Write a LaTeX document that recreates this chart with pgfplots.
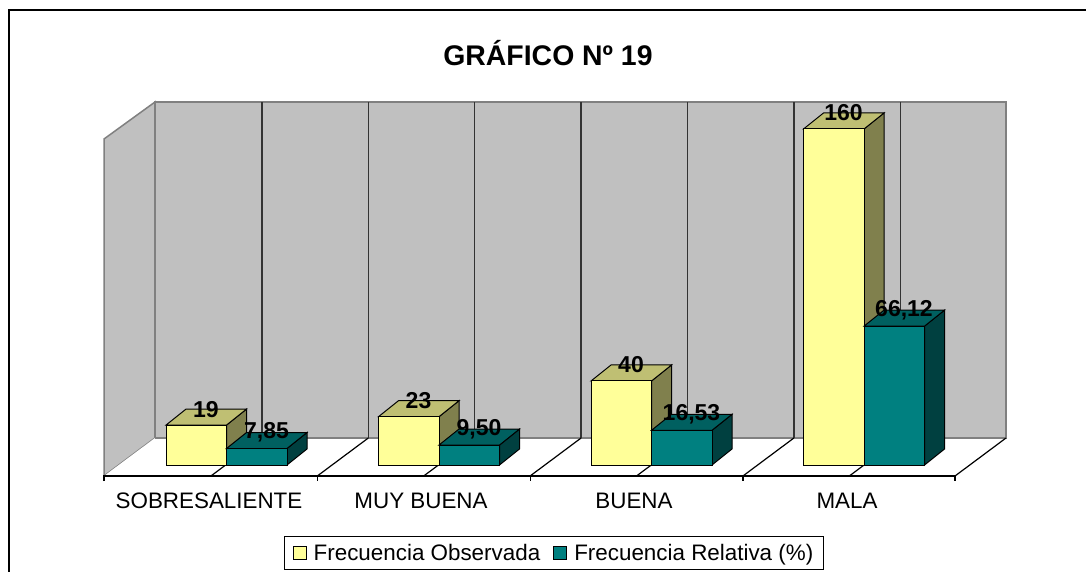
\documentclass[border=0pt]{standalone}
\usepackage{fontspec}
\setmainfont{Liberation Sans}
\usepackage{pgfplots}
\usepackage{pgfplotstable}
\pgfplotsset{compat=1.18}

\definecolor{amarillo}{HTML}{FFFF99}
\definecolor{amarilloT}{HTML}{BFBF73}
\definecolor{amarilloS}{HTML}{80804D}
\definecolor{verde}{HTML}{008080}
\definecolor{verdeT}{HTML}{006060}
\definecolor{verdeS}{HTML}{004040}
\definecolor{muro}{HTML}{C0C0C0}
\definecolor{borde}{HTML}{808080}

% x0, value, front, top, side (depth: 20 px across, 16 px = 7.62 units up)
\newcommand{\caja}[5]{%
  \pgfmathsetmacro{\xa}{#1+60.5}%
  \pgfmathsetmacro{\xb}{#1+80.5}%
  \pgfmathsetmacro{\xc}{#1+20}%
  \pgfmathsetmacro{\ya}{#2+7.62}%
  \addplot[forget plot,draw=black,line width=1pt,fill=#5] coordinates {(\xa,0) (\xb,7.62) (\xb,\ya) (\xa,#2)} -- cycle;
  \addplot[forget plot,draw=black,line width=1pt,fill=#4] coordinates {(#1,#2) (\xa,#2) (\xb,\ya) (\xc,\ya)} -- cycle;
  \addplot[forget plot,draw=black,line width=1pt,fill=#3] coordinates {(#1,0) (\xa,0) (\xa,#2) (#1,#2)} -- cycle;
}

\pgfplotstableread{
x val etiqueta
196.5 19 19
257 7.85 {7,85}
409 23 23
469.5 9.50 {9,50}
621.5 40 40
682 16.53 {16,53}
834 160 160
894.5 66.12 {66,12}
}\etiquetas

\begin{document}
\begin{tikzpicture}
\begin{axis}[
    scale only axis,
    width=1086pt,
    height=572pt,
    xmin=0,xmax=1086,
    ymin=-50.95,ymax=221.43,
    axis line style={draw=none},
    tick style={draw=none},
    ytick=\empty,
    xtick={209,421,634,847},
    xticklabels={SOBRESALIENTE,MUY BUENA,BUENA,MALA},
    xticklabel style={font=\fontsize{22.4}{24}\selectfont,anchor=center,yshift=71pt},
    title={\bfseries GRÁFICO Nº 19},
    title style={at={(axis description cs:0.5046,0.897)},anchor=center,font=\fontsize{28.4}{30}\selectfont},
    unbounded coords=jump,
    legend style={at={(axis description cs:0.5101,0.0332)},anchor=center,draw=black,line width=1pt,
        font=\fontsize{22.4}{24}\selectfont,legend columns=2,inner xsep=8pt,inner ysep=5.5pt,
        /tikz/every even column/.style={column sep=11pt},legend cell align=left},
    legend image code/.code={\draw[#1,draw=black,line width=1pt] (0pt,-6.5pt) rectangle (13pt,6.5pt);
        \path (18pt,0pt);},
]
\addlegendimage{fill=amarillo}
\addlegendentry{Frecuencia Observada}
\addlegendimage{fill=verde}
\addlegendentry{Frecuencia Relativa (\%)}

% frame
\addplot[forget plot,black,line width=2pt] coordinates {(9,-60) (9,216.67) (1100,216.67)};

% walls and floor
\addplot[forget plot,draw=borde,line width=1.5pt,fill=muro] coordinates {(104,-5.24) (155,12.86) (155,172.86) (104,155.24)} -- cycle;
\addplot[forget plot,draw=borde,line width=1.5pt,fill=muro] coordinates {(155,12.86) (1006,12.86) (1006,172.86) (155,172.86)} -- cycle;
\addplot[forget plot,draw=none,fill=white] coordinates {(104,-5.24) (955,-5.24) (1006,12.86) (155,12.86)} -- cycle;
\addplot[forget plot,draw=borde,line width=1.5pt] coordinates {(155,12.86) (1006,12.86)};

% grid lines on the wall and the floor
\addplot[forget plot,draw=black!80,line width=1.3pt] coordinates {
 (261.9,12.86) (261.9,172.86) (261.9,nan)
 (368.3,12.86) (368.3,172.86) (368.3,nan)
 (474.7,12.86) (474.7,172.86) (474.7,nan)
 (581.1,12.86) (581.1,172.86) (581.1,nan)
 (687.5,12.86) (687.5,172.86) (687.5,nan)
 (793.9,12.86) (793.9,172.86) (793.9,nan)
 (900.3,12.86) (900.3,172.86)};
\addplot[forget plot,black,line width=1.2pt] coordinates {
 (210.9,-5.24) (261.9,12.86) (261.9,nan)
 (317.3,-5.24) (368.3,12.86) (368.3,nan)
 (423.7,-5.24) (474.7,12.86) (474.7,nan)
 (530.1,-5.24) (581.1,12.86) (581.1,nan)
 (636.5,-5.24) (687.5,12.86) (687.5,nan)
 (742.9,-5.24) (793.9,12.86) (793.9,nan)
 (849.3,-5.24) (900.3,12.86) (900.3,nan)
 (955,-5.24) (1006,12.86)};

% front axis line and ticks
\addplot[forget plot,black,line width=1.2pt] coordinates {
 (104,-7.62) (104,-5.24) (955,-5.24) (955,-7.62) (955,nan)
 (317.3,-5.24) (317.3,-7.62) (317.3,nan)
 (530.1,-5.24) (530.1,-7.62) (530.1,nan)
 (742.9,-5.24) (742.9,-7.62)};

% bars
\caja{166}{19}{amarillo}{amarilloT}{amarilloS}
\caja{226.5}{7.85}{verde}{verdeT}{verdeS}
\caja{378.5}{23}{amarillo}{amarilloT}{amarilloS}
\caja{439}{9.50}{verde}{verdeT}{verdeS}
\caja{591}{40}{amarillo}{amarilloT}{amarilloS}
\caja{651.5}{16.53}{verde}{verdeT}{verdeS}
\caja{803.5}{160}{amarillo}{amarilloT}{amarilloS}
\caja{864}{66.12}{verde}{verdeT}{verdeS}

% data labels
\addplot[forget plot,draw=none,
    nodes near coords,
    point meta=explicit symbolic,
    nodes near coords align={anchor=center},
    every node near coord/.style={font=\fontsize{23}{25}\selectfont\bfseries,xshift=9.5pt,yshift=16pt,inner sep=0pt,text=black},
] table[x=x,y=val,meta=etiqueta] {\etiquetas};
\end{axis}
\end{tikzpicture}
\end{document}
